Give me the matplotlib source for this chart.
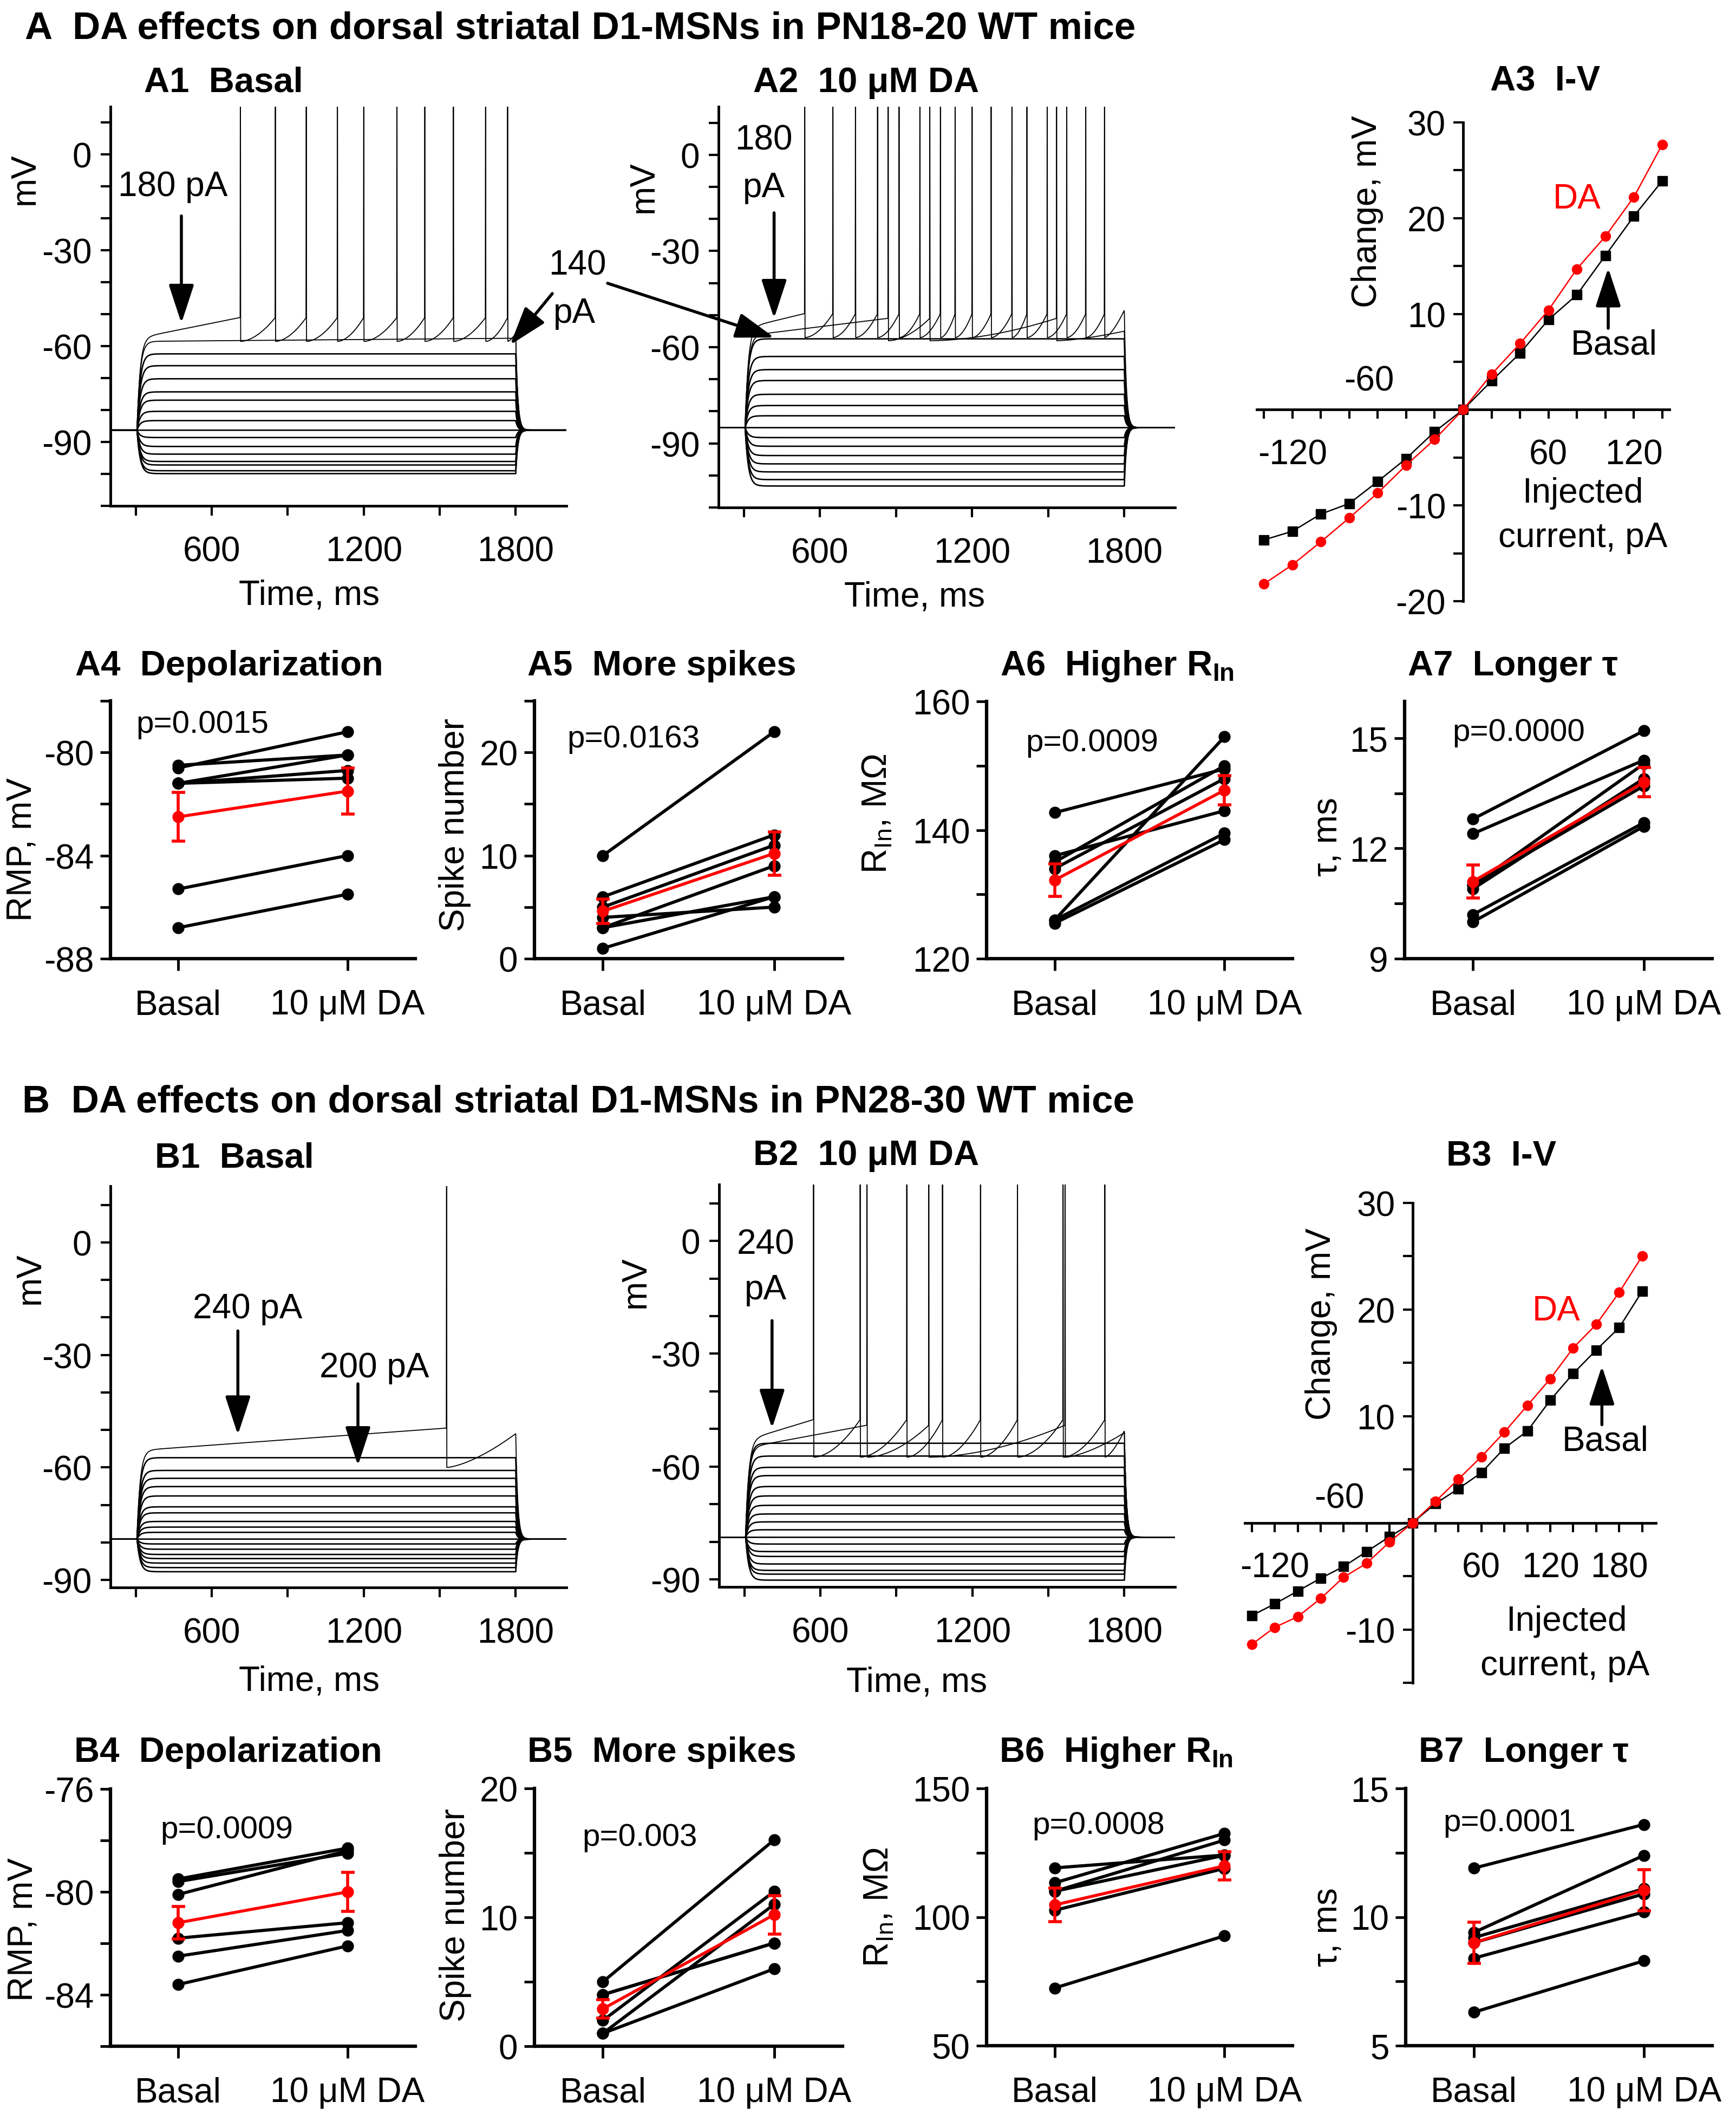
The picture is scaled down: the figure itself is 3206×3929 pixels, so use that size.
import numpy as np
import matplotlib.pyplot as plt

W, H = 3206, 3930
plt.rcParams['font.family'] = ['Liberation Sans', 'DejaVu Sans']
plt.rcParams['mathtext.fontset'] = 'custom'
plt.rcParams['mathtext.rm'] = 'Liberation Sans'
plt.rcParams['mathtext.bf'] = 'Liberation Sans:bold'

# ---------------- data ----------------
cond_labels = ['Basal', '10 \u03bcM DA']

# I-V (change in mV vs injected current)
iv_x_a = [-140, -120, -100, -80, -60, -40, -20, 0, 20, 40, 60, 80, 100, 120, 140]
iv_basal_a = [-13.6, -12.7, -10.9, -9.8, -7.5, -5.1, -2.3, 0, 3.0, 5.9, 9.4, 12.0, 16.1, 20.2, 23.9]
iv_da_a = [-18.2, -16.2, -13.8, -11.3, -8.7, -5.8, -3.1, 0, 3.7, 6.9, 10.4, 14.7, 18.1, 22.2, 27.7]

iv_x_b = [-140, -120, -100, -80, -60, -40, -20, 0, 20, 40, 60, 80, 100, 120, 140, 160, 180, 200]
iv_basal_b = [-8.7, -7.6, -6.4, -5.2, -4.1, -2.7, -1.3, 0, 1.8, 3.2, 4.7, 7.0, 8.6, 11.5, 14.0, 16.2, 18.3, 21.7]
iv_da_b = [-11.4, -9.8, -8.8, -7.1, -5.1, -3.8, -1.8, 0, 2.0, 4.1, 6.2, 8.5, 11.0, 13.5, 16.4, 18.6, 21.6, 25.0]

# resting potentials of the example cells (mV)
rest_a1, rest_a2, rest_b1, rest_b2 = -86.3, -85.1, -79.1, -78.8

# firing sweeps: start, threshold, AHP, end level (mV) and spike times (ms)
a1_top = [-57.5, -51.0, -58.5, -56.0]
a1_top_spikes = [713, 851, 973, 1096, 1200, 1331, 1441, 1554, 1681, 1768]
a1_second = [-58.5, -58.0, -58.0, -57.5]
a1_second_spikes = []

a2_top = [-54.0, -49.5, -57.0, -48.5]
a2_top_spikes = [540, 651, 740, 827, 912, 994, 1075, 1133, 1200, 1275, 1357, 1416, 1496, 1573, 1648, 1722]
a2_second = [-56.5, -51.0, -58.0, -55.0]
a2_second_spikes = [869, 1033, 1533]

b1_top = [-55.5, -49.5, -60.0, -51.0]
b1_top_spikes = [1527]

b2_top = [-53.0, -47.5, -57.5, -50.5]
b2_top_spikes = [573, 757, 941, 1082, 1232, 1378, 1558, 1723]
b2_second = [-55.0, -49.0, -57.5, -51.0]
b2_second_spikes = [784, 1028, 1566]

# paired cell values (basal, DA) and mean/sem
a4_basal = [-86.8, -85.3, -80.6, -80.5, -81.2, -81.2, -81.2]
a4_da = [-85.5, -84.0, -79.2, -80.1, -80.1, -80.7, -81.0]
a4_mean, a4_sem = [-82.5, -81.5], [0.95, 0.9]

a5_basal = [10, 6, 5, 4, 3, 3, 1]
a5_da = [22, 12, 11, 5, 9, 6, 6]
a5_mean, a5_sem = [4.6, 10.2], [1.2, 2.1]

a6_basal = [142.7, 136.0, 135.0, 134.0, 126.0, 126.0, 125.5]
a6_da = [149.5, 143.0, 150.0, 148.0, 154.5, 139.5, 138.5]
a6_mean, a6_sem = [132.2, 146.2], [2.5, 2.3]

a7_basal = [12.8, 12.4, 11.0, 10.9, 11.0, 10.2, 10.0]
a7_da = [15.2, 14.4, 14.3, 13.9, 13.7, 12.7, 12.6]
a7_mean, a7_sem = [11.1, 13.8], [0.45, 0.4]

b4_basal = [-79.5, -79.6, -80.1, -81.8, -82.5, -83.6]
b4_da = [-78.3, -78.5, -78.4, -81.2, -81.5, -82.1]
b4_mean, b4_sem = [-81.2, -80.0], [0.63, 0.75]

b5_basal = [5, 4, 2, 1, 1, 4]
b5_da = [16, 8, 12, 11, 6, 8]
b5_mean, b5_sem = [2.9, 10.2], [0.7, 1.5]

b6_basal = [119.1, 113.3, 110.0, 110.0, 102.6, 72.4]
b6_da = [124.1, 132.5, 129.9, 124.0, 118.9, 92.7]
b6_mean, b6_sem = [104.7, 119.9], [6.5, 5.5]

b7_basal = [11.9, 9.4, 9.0, 8.4, 6.3, 9.2]
b7_da = [13.6, 12.4, 10.9, 10.2, 8.3, 11.1]
b7_mean, b7_sem = [9.0, 11.05], [0.8, 0.8]

p_values = {'A4': 'p=0.0015', 'A5': 'p=0.0163', 'A6': 'p=0.0009', 'A7': 'p=0.0000',
            'B4': 'p=0.0009', 'B5': 'p=0.003', 'B6': 'p=0.0008', 'B7': 'p=0.0001'}

# ---------------- figure helpers ----------------
FS = 46
fig = plt.figure(figsize=(W / 100, H / 100), dpi=100)


def box(l, t_, r, b):
    return fig.add_axes([l / W, 1 - b / H, (r - l) / W, (b - t_) / H])


def ftext(x, y, s, **kw):
    kw.setdefault('fontsize', FS)
    fig.text(x / W, 1 - y / H, s, **kw)


def fpos(x, y):
    return (x / W, 1 - y / H)


ARROW = dict(arrowstyle='-|>,head_length=1.1,head_width=0.36', lw=4, color='k',
             mutation_scale=40, shrinkA=0, shrinkB=0)

# time base of the voltage traces
t = np.arange(200.0, 2000.5, 1.0)
T_ON, T_OFF = 305, 1800


def step_trace(base, plateau):
    v = np.full_like(t, base)
    on = (t >= T_ON) & (t < T_OFF)
    k = 1 - np.exp(-(t[on] - T_ON) / 12.0)
    v[on] = base + (plateau[on] - base) * k
    v_end = v[on][-1]
    off = t >= T_OFF
    v[off] = base + (v_end - base) * np.exp(-(t[off] - T_OFF) / 8.0)
    return v


def firing_plateau(levels, spikes):
    start, thr, ahp, end = levels
    p = np.full_like(t, start)
    marks = [T_ON] + list(spikes) + [T_OFF]
    n = len(marks) - 1
    for i in range(n):
        a, b = marks[i], marks[i + 1]
        seg = (t >= a) & (t < b)
        f = (t[seg] - a) / (b - a)
        lo = start if i == 0 else ahp
        hi = end if i == n - 1 else thr
        ex = 1.0 if i == 0 else (1.5 if i == n - 1 else 1.8)
        p[seg] = lo + (hi - lo) * f ** ex
    for s in spikes:
        p[np.argmin(np.abs(t - s))] = 40
    return p


def tick_text(v):
    return '-%g' % -v if v < 0 else '%g' % v


def trace_panel(ax, base, changes, firing, ylim, yticks):
    for c in changes:
        ax.plot(t, step_trace(base, np.full_like(t, base + c)), color='k', lw=1.9)
    for lv, sp in firing:
        ax.plot(t, step_trace(base, firing_plateau(lv, sp)), color='k', lw=1.3)
    ax.set_xlim(200, 2000)
    ax.set_ylim(*ylim)
    ax.spines[['top', 'right']].set_visible(False)
    ax.spines[['left', 'bottom']].set_linewidth(3.5)
    ax.set_xticks([300, 600, 900, 1200, 1500, 1800])
    ax.set_xticklabels(['', '600', '', '1200', '', '1800'])
    ax.set_yticks(yticks)
    ax.set_yticklabels([tick_text(v) if v % 30 == 0 else '' for v in yticks])
    ax.tick_params(axis='x', length=13, width=3, labelsize=FS, pad=26)
    ax.tick_params(axis='y', length=13, width=3, labelsize=FS, pad=12)


def iv_panel(ax, xs, basal, da, xlim, ylim, xlabels, yticks, ylabels):
    ax.plot(xs, basal, color='k', lw=1.8, marker='s', ms=13, zorder=3)
    ax.plot(xs, da, color='red', lw=1.8, marker='o', ms=13, zorder=4)
    ax.set_xlim(*xlim)
    ax.set_ylim(*ylim)
    ax.spines[['top', 'right']].set_visible(False)
    ax.spines['left'].set_position(('data', 0))
    ax.spines['bottom'].set_position(('data', 0))
    ax.spines[['left', 'bottom']].set_linewidth(3.5)
    xt = list(range(-140, xs[-1] + 1, 20))
    ax.set_xticks(xt)
    ax.set_xticklabels([tick_text(v) if v in xlabels else '' for v in xt])
    ax.set_yticks(yticks)
    ax.set_yticklabels([tick_text(v) if v in ylabels else '' for v in yticks])
    ax.tick_params(axis='x', length=12, width=3, labelsize=FS, pad=26)
    ax.tick_params(axis='y', length=13, width=3, labelsize=FS, pad=10)


def paired_panel(ax, basal, da, mean, sem, ylim, yticks, ylabels, ptxt, pxy):
    for b, d in zip(basal, da):
        ax.plot([0, 1], [b, d], color='k', lw=4.2, marker='o', ms=15, zorder=3)
    ax.errorbar([0, 1], mean, yerr=sem, color='red', lw=4, marker='o', ms=15,
                capsize=9, capthick=4, elinewidth=4, zorder=5)
    ax.set_xlim(-0.4, 1.4)
    ax.set_ylim(*ylim)
    ax.spines[['top', 'right']].set_visible(False)
    ax.spines[['left', 'bottom']].set_linewidth(4.5)
    ax.set_xticks([0, 1])
    ax.set_xticklabels(cond_labels)
    ax.set_yticks(yticks)
    ax.set_yticklabels([tick_text(v) if v in ylabels else '' for v in yticks])
    ax.tick_params(axis='x', length=16, width=3.5, labelsize=FS, pad=24)
    ax.tick_params(axis='y', length=14, width=3.5, labelsize=FS, pad=8)
    ax.text(pxy[0], pxy[1], ptxt, fontsize=42, ha='left', va='center')


# ---------------- section titles ----------------
ftext(46, 53, 'A  DA effects on dorsal striatal D1-MSNs in PN18-20 WT mice',
      fontsize=51, fontweight='bold', ha='left', va='center')
ftext(41, 2036, 'B  DA effects on dorsal striatal D1-MSNs in PN28-30 WT mice',
      fontsize=51, fontweight='bold', ha='left', va='center')

TT = dict(fontsize=47, fontweight='bold', ha='center', va='center')
ftext(413, 153, 'A1  Basal', **TT)
ftext(1600, 153, 'A2  10 \u03bcM DA', **TT)
ftext(2854, 150, 'A3  I-V', **TT)
ftext(423, 1230, 'A4  Depolarization', **TT)
ftext(1222, 1230, 'A5  More spikes', **TT)
ftext(2063, 1230, r'A6  Higher R$_\mathbf{In}$', **TT)
ftext(2794, 1230, 'A7  Longer \u03c4', **TT)
ftext(433, 2138, 'B1  Basal', **TT)
ftext(1600, 2134, 'B2  10 \u03bcM DA', **TT)
ftext(2773, 2136, 'B3  I-V', **TT)
ftext(421, 3236, 'B4  Depolarization', **TT)
ftext(1222, 3236, 'B5  More spikes', **TT)
ftext(2061, 3236, r'B6  Higher R$_\mathbf{In}$', **TT)
ftext(2814, 3236, 'B7  Longer \u03c4', **TT)

rin_label = r'R$_\mathregular{In}$, M' + '\u03a9'

# ---------------- A1 / A2 traces ----------------
ax_a1 = box(204, 198, 1046, 935)
trace_panel(ax_a1, rest_a1, iv_basal_a,
            [(a1_second, a1_second_spikes), (a1_top, a1_top_spikes)],
            (-110, 15), list(range(-110, 11, 10)))
ax_a1.text(446, -9.9, '180 pA', fontsize=FS, ha='center', va='center')
ax_a1.annotate('', xy=(480, -52.8), xytext=(480, -19.2), arrowprops=ARROW)

ax_a2 = box(1327, 198, 2170, 938)
trace_panel(ax_a2, rest_a2, iv_da_a,
            [(a2_second, a2_second_spikes), (a2_top, a2_top_spikes)],
            (-110, 15), list(range(-110, 11, 10)))
ax_a2.text(379, 4.6, '180', fontsize=FS, ha='center', va='center')
ax_a2.text(379, -10.2, 'pA', fontsize=FS, ha='center', va='center')
ax_a2.annotate('', xy=(419, -51), xytext=(419, -18.1), arrowprops=ARROW)

ftext(1066, 491, '140', ha='center', va='center')
ftext(1061, 579, 'pA', ha='center', va='center')
ax_a1.annotate('', xy=(1778, -59.6), xycoords='data', xytext=fpos(1020, 543),
               textcoords='figure fraction', arrowprops=ARROW, annotation_clip=False)
ax_a2.annotate('', xy=(420, -57), xycoords='data', xytext=fpos(1122, 524),
               textcoords='figure fraction', arrowprops=ARROW, annotation_clip=False)

ftext(46, 330, 'mV', rotation=90, ha='center', va='center')
ftext(1189, 345, 'mV', rotation=90, ha='center', va='center')
ftext(571, 1100, 'Time, ms', ha='center', va='center')
ftext(1689, 1102, 'Time, ms', ha='center', va='center')

# ---------------- A3 I-V ----------------
ax_a3 = box(2321, 227, 3083, 1111)
iv_panel(ax_a3, iv_x_a, iv_basal_a, iv_da_a, (-145, 145), (-20, 30),
         [-120, 60, 120], list(range(-20, 31, 5)), [-20, -10, 10, 20, 30])
ax_a3.text(-66, 3.0, '-60', fontsize=FS, ha='center', va='center')
ax_a3.text(80, 22, 'DA', fontsize=FS, color='red', ha='center', va='center')
ax_a3.text(106, 6.8, 'Basal', fontsize=FS, ha='center', va='center')
ax_a3.annotate('', xy=(102, 14.8), xytext=(102, 8.5), arrowprops=ARROW)
ax_a3.text(84, -8.7, 'Injected', fontsize=FS, ha='center', va='center')
ax_a3.text(84, -13.3, 'current, pA', fontsize=FS, ha='center', va='center')
ftext(2525, 391, 'Change, mV', rotation=90, ha='center', va='center')

# ---------------- A4 - A7 ----------------
ax = box(204, 1295, 767, 1771)
paired_panel(ax, a4_basal, a4_da, a4_mean, a4_sem, (-88, -78),
             [-88, -86, -84, -82, -80, -78], [-88, -84, -80], p_values['A4'], (-0.25, -78.9))
ftext(41, 1569, 'RMP, mV', rotation=90, ha='center', va='center')

ax = box(987, 1295, 1556, 1771)
paired_panel(ax, a5_basal, a5_da, a5_mean, a5_sem, (0, 25),
             [0, 5, 10, 15, 20, 25], [0, 10, 20], p_values['A5'], (-0.21, 21.3))
ftext(840, 1523, 'Spike number', rotation=90, ha='center', va='center')

ax = box(1822, 1296, 2387, 1771)
paired_panel(ax, a6_basal, a6_da, a6_mean, a6_sem, (120, 160),
             [120, 130, 140, 150, 160], [120, 140, 160], p_values['A6'], (-0.17, 153.6))
ftext(1620, 1502, rin_label, rotation=90, ha='center', va='center')

ax = box(2594, 1296, 3162, 1771)
paired_panel(ax, a7_basal, a7_da, a7_mean, a7_sem, (9, 16),
             [9, 10.5, 12, 13.5, 15], [9, 12, 15], p_values['A7'], (-0.12, 15.16))
ftext(2453, 1545, '\u03c4, ms', rotation=90, ha='center', va='center')

# ---------------- B1 / B2 traces ----------------
ax_b1 = box(204, 2191, 1046, 2932)
trace_panel(ax_b1, rest_b1, iv_basal_b, [(b1_top, b1_top_spikes)],
            (-92, 15), list(range(-90, 11, 10)))
ax_b1.text(741, -17.6, '240 pA', fontsize=FS, ha='center', va='center')
ax_b1.annotate('', xy=(703, -51.3), xytext=(703, -23.6), arrowprops=ARROW)
ax_b1.text(1242, -33.4, '200 pA', fontsize=FS, ha='center', va='center')
ax_b1.annotate('', xy=(1177, -59.5), xytext=(1177, -37.7), arrowprops=ARROW)

ax_b2 = box(1328, 2188, 2170, 2931)
trace_panel(ax_b2, rest_b2, iv_da_b,
            [(b2_second, b2_second_spikes), (b2_top, b2_top_spikes)],
            (-92, 15), list(range(-90, 11, 10)))
ax_b2.text(383, -0.9, '240', fontsize=FS, ha='center', va='center')
ax_b2.text(383, -12.9, 'pA', fontsize=FS, ha='center', va='center')
ax_b2.annotate('', xy=(409, -49.8), xytext=(409, -21.2), arrowprops=ARROW)

ftext(56, 2360, 'mV', rotation=90, ha='center', va='center')
ftext(1174, 2367, 'mV', rotation=90, ha='center', va='center')
ftext(571, 3105, 'Time, ms', ha='center', va='center')
ftext(1693, 3107, 'Time, ms', ha='center', va='center')

# ---------------- B3 I-V ----------------
ax_b3 = box(2299, 2222, 3058, 3108)
iv_panel(ax_b3, iv_x_b, iv_basal_b, iv_da_b, (-146, 212), (-15, 30),
         [-120, 60, 120, 180], list(range(-15, 31, 5)), [-10, 10, 20, 30])
ax_b3.text(-64, 2.3, '-60', fontsize=FS, ha='center', va='center')
ax_b3.text(125.5, 19.9, 'DA', fontsize=FS, color='red', ha='center', va='center')
ax_b3.text(168, 7.7, 'Basal', fontsize=FS, ha='center', va='center')
ax_b3.annotate('', xy=(165, 14.7), xytext=(165, 9.2), arrowprops=ARROW)
ax_b3.text(134, -9.2, 'Injected', fontsize=FS, ha='center', va='center')
ax_b3.text(133, -13.4, 'current, pA', fontsize=FS, ha='center', va='center')
ftext(2440, 2445, 'Change, mV', rotation=90, ha='center', va='center')

# ---------------- B4 - B7 ----------------
ax = box(204, 3304, 767, 3779)
paired_panel(ax, b4_basal, b4_da, b4_mean, b4_sem, (-86, -76),
             [-86, -84, -82, -80, -78, -76], [-84, -80, -76], p_values['B4'], (-0.106, -77.58))
ftext(43, 3563, 'RMP, mV', rotation=90, ha='center', va='center')

ax = box(987, 3303, 1556, 3779)
paired_panel(ax, b5_basal, b5_da, b5_mean, b5_sem, (0, 20),
             [0, 5, 10, 15, 20], [0, 10, 20], p_values['B5'], (-0.12, 16.2))
ftext(841, 3536, 'Spike number', rotation=90, ha='center', va='center')

ax = box(1822, 3303, 2387, 3778)
paired_panel(ax, b6_basal, b6_da, b6_mean, b6_sem, (50, 150),
             [50, 75, 100, 125, 150], [50, 100, 150], p_values['B6'], (-0.13, 135.6))
ftext(1623, 3521, rin_label, rotation=90, ha='center', va='center')

ax = box(2596, 3303, 3162, 3778)
paired_panel(ax, b7_basal, b7_da, b7_mean, b7_sem, (5, 15),
             [5, 7.5, 10, 12.5, 15], [5, 10, 15], p_values['B7'], (-0.18, 13.67))
ftext(2453, 3558, '\u03c4, ms', rotation=90, ha='center', va='center')

fig.savefig('out.png', dpi=100)
